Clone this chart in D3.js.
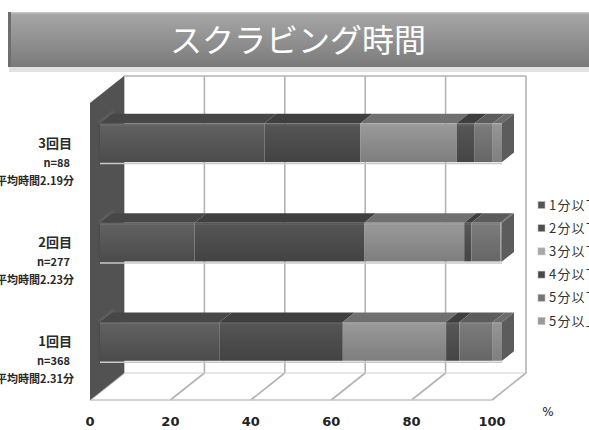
<!DOCTYPE html>
<html>
<head>
<meta charset="utf-8">
<script src="https://cdn.jsdelivr.net/npm/d3@7"></script>
<style>
  html, body { margin: 0; padding: 0; background: #fff; }
  svg { display: block; }
</style>
</head>
<body>
<svg id="chart" width="589" height="430"></svg>
<script>
// Scrubbing time by session: share of each duration band (%)
const titleText = "スクラビング時間";
const categories = ["3回目", "2回目", "1回目"];
const sampleSizes = ["n=88", "n=277", "n=368"];
const averageTimes = ["平均時間2.19分", "平均時間2.23分", "平均時間2.31分"];
const seriesNames = ["1分以下", "2分以下", "3分以下", "4分以下", "5分以下", "5分以上"];
// one array per session, in series order
const session3 = [40.9, 23.9, 23.9, 4.5, 4.5, 2.3];
const session2 = [23.5, 42.2, 24.9, 1.8, 7.2, 0.4];
const session1 = [29.8, 30.6, 25.7, 3.3, 8.3, 2.3];
const sessionValues = [session3, session2, session1];
const tickValues = [0, 20, 40, 60, 80, 100];

// grayscale fills per series: front face top, front face bottom, top face, legend swatch
const frontTop    = ["#626262", "#555555", "#9a9a9a", "#575757", "#7c7c7c", "#969696"];
const frontBottom = ["#4b4b4b", "#434343", "#7e7e7e", "#454545", "#666666", "#7f7f7f"];
const topFace     = ["#474747", "#3f3f3f", "#707070", "#3e3e3e", "#5c5c5c", "#6c6c6c"];
const swatch      = ["#555555", "#4e4e4e", "#a8a8a8", "#484848", "#767676", "#9a9a9a"];

const svg = d3.select("#chart");
const defs = svg.append("defs");

// ---- title banner ----
const bannerGrad = defs.append("linearGradient").attr("id", "banner").attr("x1", 0).attr("y1", 0).attr("x2", 0).attr("y2", 1);
bannerGrad.append("stop").attr("offset", "0%").attr("stop-color", "#a8a8a8");
bannerGrad.append("stop").attr("offset", "100%").attr("stop-color", "#7a7a7a");
svg.append("rect").attr("x", 9).attr("y", 66).attr("width", 590).attr("height", 6).attr("fill", "#e2e2e2");
svg.append("rect").attr("x", 8).attr("y", 12).attr("width", 590).attr("height", 55).attr("fill", "url(#banner)");
svg.append("rect").attr("x", 8).attr("y", 12).attr("width", 590).attr("height", 1.5).attr("fill", "#c4c4c4");
svg.append("rect").attr("x", 8).attr("y", 12).attr("width", 3).attr("height", 55).attr("fill", "#6e6e6e");
svg.append("text")
  .attr("x", 298).attr("y", 52)
  .attr("text-anchor", "middle")
  .attr("font-family", "'Noto Sans CJK JP', 'Noto Sans', sans-serif")
  .attr("font-size", 32)
  .attr("fill", "#ffffff")
  .text(titleText);

// ---- 3D projection ----
const x = d3.scaleLinear().domain([0, 100]).range([90, 492]);
const y = d3.scaleBand().domain(categories).range([101, 399]).paddingInner(0.61).paddingOuter(0.305);
const DX = 34, DY = 27;           // depth offset of the back wall
const Z1 = 0.294, Z2 = 0.647;      // depth of bar front and back planes
const floorY = 400, wallTopY = 103;
const px = (v, z) => x(v) + z * DX;
const py = (yy, z) => yy - z * DY;
const pt = (v, yy, z) => [px(v, z), py(yy, z)];
const line = d3.line();

// back wall
svg.append("path")
  .attr("d", line([pt(0, wallTopY, 1), pt(100, wallTopY, 1), pt(100, floorY, 1), pt(0, floorY, 1)]) + "Z")
  .attr("fill", "#ffffff");

const gridColor = "#b3b3b3";
// vertical gridlines on the back wall and their floor diagonals
tickValues.forEach(t => {
  svg.append("path")
    .attr("d", line([pt(t, wallTopY, 1), pt(t, floorY, 1), pt(t, floorY, 0)]))
    .attr("fill", "none").attr("stroke", gridColor).attr("stroke-width", 1.6);
});
// wall top edge and floor edges
svg.append("path").attr("d", line([pt(0, wallTopY, 1), pt(100, wallTopY, 1)]))
  .attr("stroke", gridColor).attr("stroke-width", 1.6).attr("fill", "none");
svg.append("path").attr("d", line([pt(0, floorY, 1), pt(100, floorY, 1)]))
  .attr("stroke", "#cfcfcf").attr("stroke-width", 1.2).attr("fill", "none");
svg.append("path").attr("d", line([pt(0, floorY, 0), pt(100, floorY, 0)]))
  .attr("stroke", "#c4c4c4").attr("stroke-width", 1.4).attr("fill", "none");

// left side wall
svg.append("path")
  .attr("d", line([pt(0, wallTopY, 0), pt(0, wallTopY, 1), pt(0, floorY, 1), pt(0, floorY, 0)]) + "Z")
  .attr("fill", "#525252");

// soft shading where each bar meets the side wall
const blur = defs.append("filter").attr("id", "soft").attr("x", "-50%").attr("y", "-50%").attr("width", "200%").attr("height", "200%");
blur.append("feGaussianBlur").attr("stdDeviation", 1.6);

// ---- bars ----
categories.forEach((cat, ci) => {
  const vals = sessionValues[ci];
  const y0 = y(cat), y1 = y(cat) + y.bandwidth();
  const g = svg.append("g");

  // seam on the wall
  g.append("path")
    .attr("d", line([pt(0, y0, Z1), pt(0, y0, Z2 + 0.05), pt(0, y1, Z2 + 0.05), pt(0, y1, Z1)]) + "Z")
    .attr("fill", "#3a3a3a").attr("filter", "url(#soft)").attr("opacity", 0.8);
  g.append("path")
    .attr("d", line([pt(0, y0, Z1), pt(0, y0, Z2 + 0.05)]))
    .attr("stroke", "#7a7a7a").attr("stroke-width", 2).attr("filter", "url(#soft)");

  let acc = 0;
  vals.forEach((v, si) => {
    const a = acc, b = acc + v;
    acc = b;
    const gid = `grad-${ci}-${si}`;
    const gr = defs.append("linearGradient").attr("id", gid).attr("x1", 0).attr("y1", 0).attr("x2", 0).attr("y2", 1);
    gr.append("stop").attr("offset", "0%").attr("stop-color", frontTop[si]);
    gr.append("stop").attr("offset", "100%").attr("stop-color", frontBottom[si]);

    // top face
    g.append("path")
      .attr("d", line([pt(a, y0, Z1), pt(b, y0, Z1), pt(b, y0, Z2), pt(a, y0, Z2)]) + "Z")
      .attr("fill", topFace[si]);
    // front face
    g.append("rect")
      .attr("x", px(a, Z1)).attr("y", py(y0, Z1))
      .attr("width", Math.max(0, px(b, Z1) - px(a, Z1)))
      .attr("height", y1 - y0)
      .attr("fill", `url(#${gid})`);
    // faint highlight along the top of the front face
    g.append("rect")
      .attr("x", px(a, Z1)).attr("y", py(y0, Z1) + 1)
      .attr("width", Math.max(0, px(b, Z1) - px(a, Z1)))
      .attr("height", 1.2)
      .attr("fill", "#ffffff").attr("opacity", 0.08);
  });

  // right end face
  g.append("path")
    .attr("d", line([pt(100, y0, Z1), pt(100, y0, Z2), pt(100, y1, Z2), pt(100, y1, Z1)]) + "Z")
    .attr("fill", "#5c5c5c");
  // light floor shadow under the bar
  g.append("path")
    .attr("d", line([pt(0, y1, Z1), pt(100, y1, Z1)]))
    .attr("stroke", "#c8c8c8").attr("stroke-width", 1.5).attr("transform", "translate(0,1.5)");

  // category labels
  const cy = py(y0 + y.bandwidth() / 2, Z1);
  const lab = svg.append("g")
    .attr("font-family", "'Noto Sans CJK JP', sans-serif")
    .attr("font-weight", "bold")
    .attr("fill", "#2a2a2a")
    .attr("text-anchor", "end");
  lab.append("text").attr("x", 72).attr("y", cy + 5).attr("font-size", 13).text(cat);
  lab.append("text").attr("x", 70).attr("y", cy + 24).attr("font-size", 11).text(sampleSizes[ci]);
  lab.append("text").attr("x", 74).attr("y", cy + 42).attr("font-size", 11).text(averageTimes[ci]);
});

// ---- value axis labels ----
svg.append("g")
  .attr("font-family", "'DejaVu Sans', sans-serif")
  .attr("font-size", 13)
  .attr("font-weight", "bold")
  .attr("fill", "#222")
  .selectAll("text")
  .data(tickValues)
  .join("text")
  .attr("x", d => x(d))
  .attr("y", 426)
  .attr("text-anchor", "middle")
  .text(d => d);
svg.append("text")
  .attr("x", 548).attr("y", 416)
  .attr("text-anchor", "middle")
  .attr("font-family", "'DejaVu Sans', sans-serif")
  .attr("font-size", 12)
  .attr("fill", "#222")
  .text("%");

// ---- legend (runs past the right edge of the page) ----
const legend = svg.append("g").attr("font-family", "'Noto Sans CJK JP', sans-serif").attr("font-size", 13).attr("fill", "#333");
seriesNames.forEach((name, i) => {
  const ly = 205 + i * 23.2;
  legend.append("rect").attr("x", 538).attr("y", ly - 3.5).attr("width", 7).attr("height", 7)
    .attr("fill", swatch[i]).attr("stroke", "#bdbdbd").attr("stroke-width", 0.6);
  legend.append("text").attr("x", 549).attr("y", ly + 4.5).attr("letter-spacing", 1.2).text(name);
});
</script>
</body>
</html>
